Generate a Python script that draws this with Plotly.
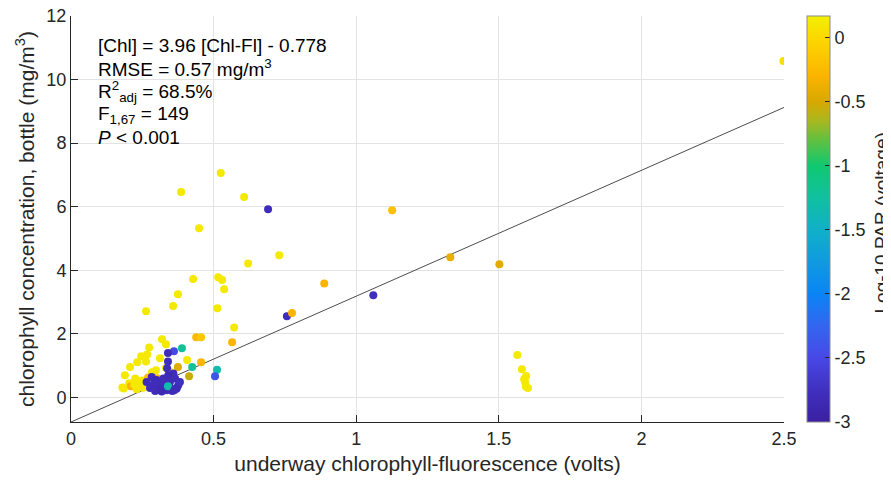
import plotly.graph_objects as go

# ---- data ----
# underway chlorophyll fluorescence (volts)
fluor = [
    2.498, 1.502, 1.565, 1.581, 1.596, 1.589, 1.592, 1.602, 1.595,
    0.691, 0.730, 0.888, 0.757, 0.775, 1.060, 1.126, 1.330,
    0.525, 0.386, 0.607, 0.449, 0.621, 0.428, 0.516, 0.530, 0.537,
    0.375, 0.358, 0.263, 0.513, 0.572, 0.565, 0.439, 0.456, 0.319,
    0.333, 0.274, 0.389, 0.361, 0.340, 0.267, 0.246, 0.263, 0.312,
    0.407, 0.456, 0.425, 0.512, 0.505, 0.414, 0.232, 0.207, 0.189,
    0.204, 0.180, 0.185, 0.210, 0.249, 0.284, 0.298, 0.333, 0.345,
    0.375, 0.250, 0.302, 0.337, 0.372, 0.340, 0.337, 0.253, 0.290,
    0.222, 0.270, 0.230, 0.341, 0.330, 0.225, 0.236,
    0.283, 0.300, 0.289, 0.312, 0.330, 0.347, 0.365, 0.376, 0.370,
    0.353, 0.324, 0.306, 0.277, 0.265, 0.359, 0.341, 0.324, 0.312,
    0.335, 0.382, 0.295, 0.318, 0.355, 0.292, 0.340, 0.362,
]
# bottle chlorophyll concentration (mg/m^3)
chl = [
    10.58, 4.19, 1.33, 0.88, 0.67, 0.57, 0.48, 0.29, 0.33,
    5.92, 4.47, 3.58, 2.55, 2.65, 3.21, 5.89, 4.41,
    7.06, 6.46, 6.30, 5.32, 4.21, 3.72, 3.78, 3.69, 3.40,
    3.24, 2.87, 2.71, 2.80, 2.20, 1.73, 1.89, 1.89, 1.83,
    1.67, 1.57, 1.54, 1.45, 1.39, 1.35, 1.29, 1.13, 1.23,
    1.17, 1.10, 0.95, 0.87, 0.66, 0.66, 1.10, 0.95, 0.69,
    0.44, 0.31, 0.28, 0.35, 0.53, 0.79, 0.85, 0.92, 0.82,
    0.95, 0.38, 0.60, 0.28, 0.31, 1.13, 0.91, 0.30, 0.35,
    0.40, 0.62, 0.25, 0.33, 0.56, 0.59, 0.38,
    0.64, 0.54, 0.38, 0.33, 0.38, 0.48, 0.59, 0.38, 0.27,
    0.27, 0.25, 0.27, 0.29, 0.48, 0.75, 0.69, 0.59, 0.48,
    0.22, 0.48, 0.20, 0.18, 0.20, 0.45, 0.35, 0.22,
]
# log-10 PAR (voltage)
log_par = [
    0.05, -0.45, 0.12, 0.12, 0.12, 0.12, 0.12, 0.12, 0.12,
    -2.8, 0.12, -0.3, -2.8, -0.3, -2.75, -0.2, -0.4,
    0.12, 0.12, 0.12, 0.12, 0.12, 0.12, 0.12, 0.12, 0.12,
    0.12, 0.12, 0.12, 0.12, 0.12, -0.3, -0.25, -0.15, 0.12,
    0.12, 0.12, -1.2, -2.5, -2.8, 0.12, 0.12, 0.12, 0.12,
    0.12, -0.3, -1.2, -1.3, -2.4, -0.55, 0.12, 0.12, 0.12,
    0.12, 0.12, 0.12, -0.3, 0.12, 0.12, 0.12, 0.12, 0.12,
    -0.45, 0.12, -0.3, -1.3, -1.4, -2.8, -2.8, 0.12, -0.3,
    0.12, -0.2, 0.12, -0.25, -1.3, 0.12, 0.12,
    -2.8, -2.85, -2.8, -2.8, -2.85, -2.8, -2.8, -2.8, -2.85,
    -2.8, -2.8, -2.85, -2.8, -2.8, -2.8, -2.85, -2.8, -2.8,
    -2.8, -2.75, -2.8, -2.85, -2.8, -2.8, -1.3, -2.8,
]

# regression: [Chl] = 3.96 [Chl-Fl] - 0.778
slope = 3.96
intercept = -0.778
fit_x = [0.0, 2.5]
fit_y = [slope * v + intercept for v in fit_x]

x_ticks = [0, 0.5, 1, 1.5, 2, 2.5]
x_tick_text = ["0", "0.5", "1", "1.5", "2", "2.5"]
y_ticks = [0, 2, 4, 6, 8, 10, 12]
cb_ticks = [0, -0.5, -1, -1.5, -2, -2.5, -3]
cb_tick_text = ["0", "-0.5", "-1", "-1.5", "-2", "-2.5", "-3"]

stats_lines = [
    "[Chl] = 3.96 [Chl-Fl] - 0.778",
    "RMSE = 0.57 mg/m<sup>3</sup>",
    "R<sup>2</sup><sub>adj</sub> = 68.5%",
    "F<sub>1,67</sub> = 149",
    "<i>P</i> &lt; 0.001",
]

parula_like = [
    [0.000, "#3a1fa0"], [0.079, "#4030c0"], [0.158, "#4848e6"],
    [0.237, "#3366f0"], [0.315, "#0a84f5"], [0.394, "#109ae0"],
    [0.473, "#10b0c8"], [0.552, "#10c0a0"], [0.631, "#10c870"],
    [0.694, "#60c040"], [0.741, "#a8b820"], [0.789, "#d8a800"],
    [0.852, "#fbb400"], [0.946, "#fcd800"], [1.000, "#f2f000"],
]

FONT = "Liberation Sans, Arial, Helvetica, sans-serif"
INK = "#262626"

# page body adds an 8px offset; figure is sized so that it fills the window
OFF = 8
W, H = 891 - OFF, 481 - OFF
X0, Y0 = 71, 16          # plot-area top-left in window pixels
PW, PH = 713, 406
L, T = X0 - OFF, Y0 - OFF


def px_x(p):
    return (p - X0) / PW


def px_y(p):
    return (Y0 + PH - p) / PH


fig = go.Figure()

# white panel behind the statistics text (hides grid lines)
fig.add_shape(type="rect", xref="paper", yref="paper", layer="between",
              x0=px_x(72), x1=px_x(347), y0=px_y(153), y1=px_y(27),
              fillcolor="white", line=dict(width=0))

fig.add_trace(go.Scatter(
    x=fit_x, y=fit_y, mode="lines",
    line=dict(color="#4d4d4d", width=1), showlegend=False, hoverinfo="skip",
))
fig.add_trace(go.Scatter(
    x=fluor, y=chl, mode="markers", showlegend=False,
    marker=dict(
        size=8, color=log_par, colorscale=parula_like, cmin=-3, cmax=0.17,
        line=dict(width=0),
        colorbar=dict(
            x=px_x(807), xanchor="left", xpad=0,
            y=0.5, yanchor="middle", len=1.0, ypad=0,
            thickness=23, outlinecolor="#8c8c8c", outlinewidth=1,
            tickmode="array", tickvals=cb_ticks, ticktext=cb_tick_text,
            ticks="inside", ticklen=5, tickcolor=INK,
            tickfont=dict(family=FONT, size=18, color=INK),
        ),
    ),
))

# colorbar title
fig.add_annotation(
    xref="paper", yref="paper", x=px_x(880.5), y=px_y(223),
    xanchor="center", yanchor="middle", textangle=-90, showarrow=False,
    text="Log-10 PAR (voltage)", font=dict(family=FONT, size=19, color=INK),
)

# statistics text, one line at a time
line_centres = [44.5, 67.5, 90.7, 114.0, 136.7]
for txt, yc in zip(stats_lines, line_centres):
    fig.add_annotation(
        xref="paper", yref="paper", x=px_x(96), y=px_y(yc + 1),
        xanchor="left", yanchor="middle", align="left", showarrow=False,
        text=txt, font=dict(family=FONT, size=19, color="black"),
    )

axis_common = dict(
    showgrid=True, gridcolor="#e3e3e3", gridwidth=1, zeroline=False,
    showline=True, linecolor=INK, linewidth=1, mirror=False,
    ticks="inside", ticklen=7, tickcolor=INK, ticklabeloverflow="allow",
    tickfont=dict(family=FONT, size=18, color=INK),
)

fig.update_xaxes(
    range=[0, 2.5], tickmode="array", tickvals=x_ticks, ticktext=x_tick_text,
    title=dict(text="underway chlorophyll-fluorescence (volts)",
               font=dict(family=FONT, size=21, color=INK), standoff=8),
    **axis_common,
)
fig.update_yaxes(
    range=[intercept, 12], tickmode="array", tickvals=y_ticks,
    title=dict(text="chlorophyll concentration, bottle (mg/m<sup>3</sup>)",
               font=dict(family=FONT, size=21, color=INK), standoff=6),
    **axis_common,
)

fig.update_layout(
    width=W, height=H,
    margin=dict(l=L, r=W - L - PW, t=T, b=H - T - PH, autoexpand=False),
    plot_bgcolor="white", paper_bgcolor="white",
)

fig.write_html("out.html")
